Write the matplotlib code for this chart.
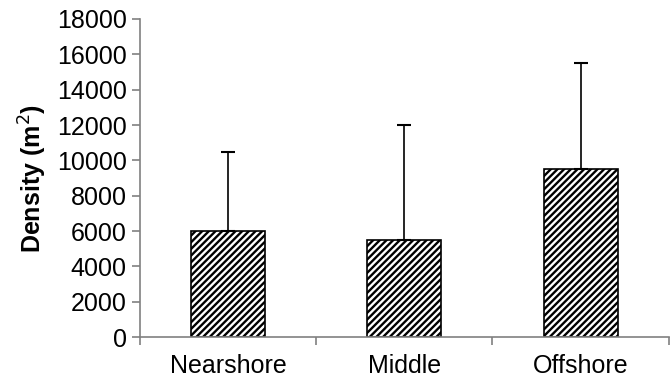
import matplotlib.pyplot as plt
import matplotlib as mpl

# data
sites = ["Nearshore", "Middle", "Offshore"]
density = [6000, 5500, 9500]
density_sd = [4500, 6500, 6000]

plt.rcParams['font.family'] = ['Liberation Sans', 'DejaVu Sans']
mpl.rcParams['hatch.linewidth'] = 1.7

fig = plt.figure(figsize=(6.7, 3.8), dpi=100)
ax = fig.add_axes([0.209, 0.113, 0.789, 0.837])

x = range(len(sites))
ax.bar(x, density, width=0.42, color='white', edgecolor='black', hatch='/////',
       linewidth=1.2, zorder=2)
ax.errorbar(x, density, yerr=[[0] * len(sites), density_sd], fmt='none',
            ecolor='black', elinewidth=1.2, capsize=5, capthick=1.5, zorder=3)

ax.set_xlim(-0.5, 2.5)
ax.set_ylim(0, 18000)
ax.set_yticks(range(0, 18001, 2000))
ax.set_xticks(x)
ax.set_xticklabels(sites, fontsize=18)
ax.set_xticks([-0.5, 0.5, 1.5, 2.5], minor=True)
ax.tick_params(axis='x', which='major', length=0, pad=12)
ax.tick_params(axis='x', which='minor', length=6, color='#808080', width=1.2)
ax.tick_params(axis='y', labelsize=18, length=6, color='#808080', width=1.2)
ax.set_ylabel('Density (m$^2$)', fontsize=18, fontweight='bold', labelpad=6)

for s in ['top', 'right']:
    ax.spines[s].set_visible(False)
for s in ['left', 'bottom']:
    ax.spines[s].set_color('#808080')
    ax.spines[s].set_linewidth(1.2)

fig.savefig('out.png', dpi=100)
